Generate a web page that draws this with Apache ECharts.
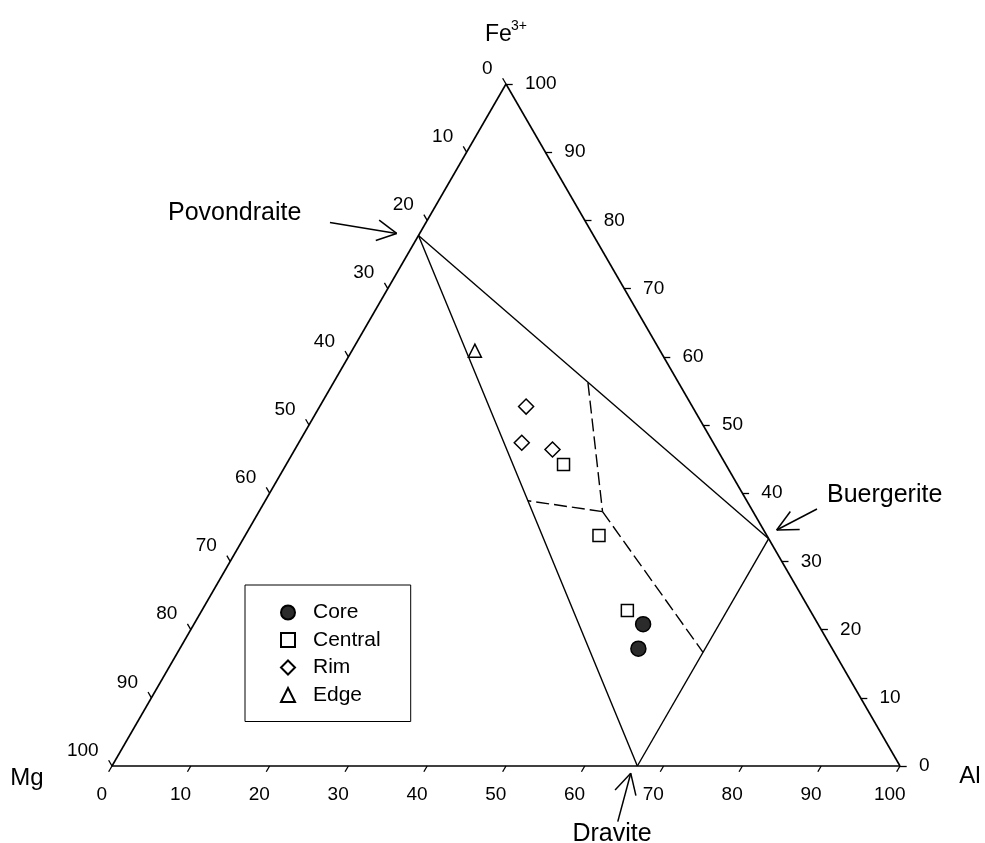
<!DOCTYPE html>
<html><head><meta charset="utf-8">
<script src="https://cdn.jsdelivr.net/npm/echarts@6/dist/echarts.min.js"></script>
<style>html,body{margin:0;padding:0;background:#fff}#c{width:985px;height:843px}</style>
</head><body><div id="c"></div>
<script>
// ternary values: [Al, Fe3+, Mg] in percent
const tickValues = [0,10,20,30,40,50,60,70,80,90,100];
const tickLabels = ['0','10','20','30','40','50','60','70','80','90','100'];
const povondraite = [0, 77.78, 22.22];
const buergerite = [66.67, 33.33, 0];
const dravite = [66.67, 0, 33.33];
const dashTop = [32.3, 56.2, 11.5];
const dashCenter = [43.6, 37.3, 19.1];
const coreData = [[57.0, 20.8, 22.2], [58.2, 17.2, 24.6]];
const centralData = [[35.2, 44.2, 20.6], [44.9, 33.8, 21.3], [54.0, 22.8, 23.2]];
const rimData = [[26.2, 52.7, 21.1], [28.3, 47.4, 24.3], [32.7, 46.4, 20.9]];
const edgeData = [[15.6, 60.9, 23.5]];
const seriesNames = ['Core', 'Central', 'Rim', 'Edge'];

const S3 = Math.sqrt(3) / 2;
const K = 7.88; // px per data unit (for pixel offsets of annotations)
function tern(p) { const s = p[0] + p[1] + p[2]; const al = p[0] / s * 100, fe = p[1] / s * 100; return [al + fe / 2, fe * S3]; }
function off(xy, d) { return [xy[0] + d[0] / K, xy[1] - d[1] / K]; }
function mid(a, b) { return [(a[0] + b[0]) / 2, (a[1] + b[1]) / 2, (a[2] + b[2]) / 2]; }
const FONT = '"Liberation Sans", Arial, sans-serif';

const vMg = tern([0, 0, 100]), vAl = tern([100, 0, 0]), vFe = tern([0, 100, 0]);
const pPov = tern(povondraite), pBue = tern(buergerite), pDra = tern(dravite);

// ticks
const L = 0.85;
const dirB = [-0.5, -S3], dirR = [1, 0], dirL = [-0.5, S3];
const tickLines = [];
const labB = [], labR = [], labL = [];
tickValues.forEach((t, i) => {
  const pb = tern([t, 0, 100 - t]);
  const pr = tern([100 - t, t, 0]);
  const pl = tern([0, 100 - t, t]);
  tickLines.push({coords: [pb, [pb[0] + L * dirB[0], pb[1] + L * dirB[1]]]});
  tickLines.push({coords: [pr, [pr[0] + L * dirR[0], pr[1] + L * dirR[1]]]});
  tickLines.push({coords: [pl, [pl[0] + L * dirL[0], pl[1] + L * dirL[1]]]});
  labB.push({value: [pb[0] - 1.3, pb[1] - 3.6], name: tickLabels[i]});
  labR.push({value: [pr[0] + 2.4, pr[1]], name: tickLabels[i]});
  labL.push({value: [pl[0] - 1.7, pl[1] + 1.95], name: tickLabels[i]});
});

function arrow(base, tailOff, tipOff, len, halfDeg) {
  const tip = off(base, tipOff), tail = off(base, tailOff);
  let bx = tail[0] - tip[0], by = tail[1] - tip[1];
  const n = Math.hypot(bx, by); bx /= n; by /= n;
  const h = halfDeg * Math.PI / 180, l = len / K;
  const w = s => [tip[0] + l * (bx * Math.cos(s * h) - by * Math.sin(s * h)), tip[1] + l * (bx * Math.sin(s * h) + by * Math.cos(s * h))];
  return [{coords: [tail, tip]}, {coords: [tip, w(1)]}, {coords: [tip, w(-1)]}];
}
const arrows = [].concat(
  arrow(pPov, [-88.5, -13.1], [-21.8, -2.1], 22, 28),
  arrow(pBue, [48.3, -29.7], [8, -8.7], 23, 26),
  arrow(pDra, [-19.6, 55.7], [-6.6, 7.3], 23, 28)
);

const frame = [{coords: [vMg, vAl]}, {coords: [vAl, vFe]}, {coords: [vFe, vMg]}];
const inner = [{coords: [pPov, pBue]}, {coords: [pPov, pDra]}, {coords: [pBue, pDra]}];
const dashed = [
  {coords: [tern(dashTop), tern(dashCenter)]},
  {coords: [tern(dashCenter), tern(mid(povondraite, dravite))]},
  {coords: [tern(dashCenter), tern(mid(buergerite, dravite))]}
];

function linesSeries(data, w, type) {
  return {type: 'lines', coordinateSystem: 'cartesian2d', data: data, silent: true, z: 2, clip: false,
    lineStyle: {color: '#000', width: w, type: type || 'solid', opacity: 1}, effect: {show: false}};
}
function labelSeries(data, align) {
  return {type: 'scatter', data: data, symbolSize: 0, silent: true, z: 3, clip: false,
    itemStyle: {opacity: 1},
    label: {show: true, position: 'inside', formatter: '{b}', align: align, verticalAlign: 'middle',
      fontSize: 19, color: '#000', fontFamily: FONT, opacity: 1}};
}
function markSeries(name, data, symbol, size, fill) {
  return {type: 'scatter', name: name, data: data.map(tern), symbol: symbol, symbolSize: size, z: 5, clip: false,
    itemStyle: {color: fill, borderColor: '#000', borderWidth: 1.5, opacity: 1}};
}

const chart = echarts.init(document.getElementById('c'), null, {renderer: 'canvas'});
chart.setOption({
  animation: false,
  backgroundColor: '#fff',
  grid: {left: 112, top: 84, width: 788, height: 682},
  xAxis: {type: 'value', min: 0, max: 100, show: false},
  yAxis: {type: 'value', min: 0, max: 100 * S3, show: false},
  legend: {
    data: seriesNames, orient: 'vertical', left: 245, top: 585,
    padding: [17, 30, 16, 35], borderColor: '#000', borderWidth: 1, backgroundColor: '#fff',
    itemWidth: 14, itemHeight: 14, itemGap: 6.5, selectedMode: false,
    textStyle: {fontSize: 21, color: '#000', fontFamily: FONT, lineHeight: 21, padding: [0, 0, 0, 13]}
  },
  series: [
    linesSeries(frame, 1.6),
    linesSeries(inner, 1.4),
    linesSeries(dashed, 1.4, [13, 5]),
    linesSeries(tickLines, 1.3),
    linesSeries(arrows, 1.5),
    labelSeries(labB, 'center'),
    labelSeries(labR, 'left'),
    labelSeries(labL, 'right'),
    markSeries('Core', coreData, 'circle', 15, '#2b2b2b'),
    markSeries('Central', centralData, 'rect', 12, '#fff'),
    markSeries('Rim', rimData, 'diamond', 15, '#fff'),
    markSeries('Edge', edgeData, 'triangle', 13, '#fff')
  ]
});

function px(xy, d) { const p = chart.convertToPixel({gridIndex: 0}, xy); return [p[0] + d[0], p[1] + d[1]]; }
function txt(p, s, size, align) {
  return {type: 'text', x: p[0], y: p[1], silent: true, z: 10,
    style: {text: s, fontSize: size, fontFamily: FONT, fill: '#000', align: align, verticalAlign: 'middle'}};
}
chart.setOption({graphic: [
  txt(px(pPov, [-250.5, -22.4]), 'Povondraite', 25, 'left'),
  txt(px(pBue, [58.3, -43.7]), 'Buergerite', 25, 'left'),
  txt(px(pDra, [-25.3, 68]), 'Dravite', 25, 'center'),
  txt(px(vMg, [-85, 12]), 'Mg', 24, 'center'),
  txt(px(vAl, [70, 10]), 'Al', 24, 'center'),
  txt(px(vFe, [-21, -49]), 'Fe', 23, 'left'),
  txt(px(vFe, [5, -58]), '3+', 14, 'left')
]});
</script></body></html>
